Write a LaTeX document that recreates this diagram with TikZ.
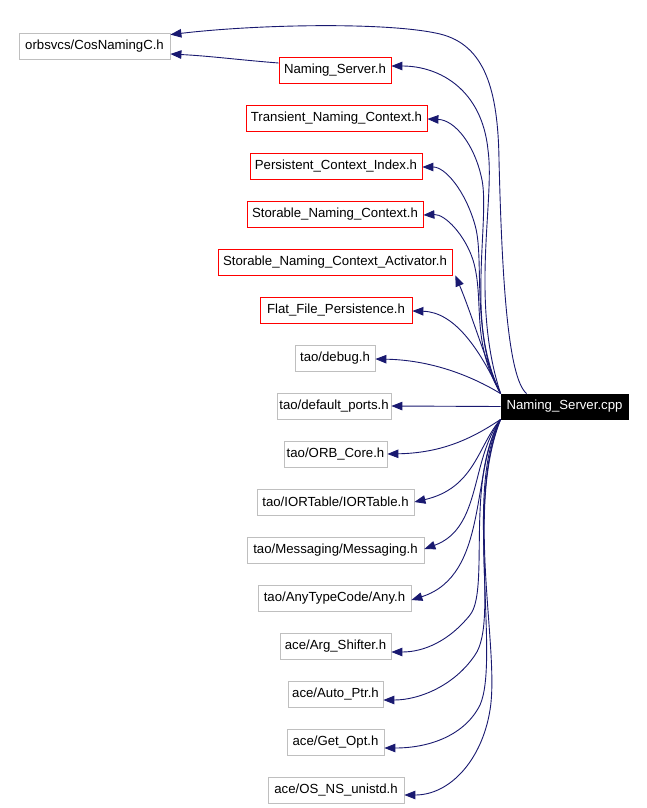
\documentclass[tikz,border=0pt]{standalone}
\usepackage{fontspec}
\setmainfont{Liberation Sans}
\usetikzlibrary{arrows.meta}
\definecolor{edgeblue}{HTML}{191970}
\definecolor{boxgray}{HTML}{BFBFBF}
\begin{document}
\begin{tikzpicture}[x=1pt,y=-1pt,
  box/.style={draw=boxgray, line width=0.8pt, fill=white, minimum height=26pt, inner sep=0pt, font=\fontsize{13.2}{15}\selectfont, text=black},
  redbox/.style={box, draw=red},
  mainbox/.style={box, draw=black, fill=black, text=white, minimum height=25pt},
  edge/.style={draw=edgeblue, line width=0.9pt, -{Triangle[length=11pt,width=8.5pt]}}]
\useasboundingbox (0,0) rectangle (646,808);
\fill[white] (0,0) rectangle (646,808);

\node[box, minimum width=151pt] (cos) at (94.5,46) {orbsvcs/CosNamingC.h};
\node[redbox, minimum width=112pt] (nsh) at (335,70) {Naming\_Server.h};
\node[redbox, minimum width=181pt] (tnc) at (336.5,118) {Transient\_Naming\_Context.h};
\node[redbox, minimum width=172pt] (pci) at (336,166) {Persistent\_Context\_Index.h};
\node[redbox, minimum width=176pt] (snc) at (335,214) {Storable\_Naming\_Context.h};
\node[redbox, minimum width=234pt] (snca) at (335,262) {Storable\_Naming\_Context\_Activator.h};
\node[redbox, minimum width=152pt] (ffp) at (336,310) {Flat\_File\_Persistence.h};
\node[box, minimum width=80pt] (debug) at (335,358) {tao/debug.h};
\node[box, minimum width=114pt] (dports) at (334,406) {tao/default\_ports.h};
\node[box, minimum width=103pt] (orb) at (335.5,454) {tao/ORB\_Core.h};
\node[box, minimum width=157pt] (ior) at (335.5,502) {tao/IORTable/IORTable.h};
\node[box, minimum width=177pt] (msg) at (335.5,550) {tao/Messaging/Messaging.h};
\node[box, minimum width=153pt] (any) at (334.5,598) {tao/AnyTypeCode/Any.h};
\node[box, minimum width=111pt] (arg) at (335.5,646) {ace/Arg\_Shifter.h};
\node[box, minimum width=95pt] (auto) at (335.5,694) {ace/Auto\_Ptr.h};
\node[box, minimum width=97pt] (getopt) at (335.5,742) {ace/Get\_Opt.h};
\node[box, minimum width=136pt] (osns) at (336,790) {ace/OS\_NS\_unistd.h};
\node[mainbox, minimum width=127pt] (cpp) at (564.5,406.5) {Naming\_Server.cpp};

% edges to nodes above
\draw[edge] ([xshift=26pt]cpp.north west) .. controls (508,378) and (502,280) .. (499,160)
  .. controls (498,90) and (485,45) .. (440,34)
  .. controls (390,22) and (260,24) .. ([yshift=-2pt]cos.north east);
\draw[edge] ([yshift=7pt]nsh.west) .. controls (240,60) and (210,56) .. ([yshift=-8pt]cos.east);
\draw[edge] (cpp.north west) .. controls (470,300) and (495,200) .. (488,150)
  .. controls (482,90) and (440,66) .. ([yshift=4pt]nsh.east);
\draw[edge] (cpp.north west) .. controls (465,330) and (490,220) .. (482,180)
  .. controls (475,145) and (455,120) .. ([yshift=-1pt]tnc.east);
\draw[edge] (cpp.north west) .. controls (470,330) and (485,260) .. (475,225)
  .. controls (465,190) and (445,167) .. ([yshift=-1pt]pci.east);
\draw[edge] (cpp.north west) .. controls (470,340) and (485,300) .. (473,260)
  .. controls (465,235) and (445,214) .. ([yshift=-1pt]snc.east);
\draw[edge] (cpp.north west) .. controls (485,360) and (472,315) .. ([xshift=3pt]snca.south east);
\draw[edge] (cpp.north west) .. controls (480,350) and (455,312) .. ([yshift=-1pt]ffp.east);
\draw[edge] (cpp.north west) .. controls (470,375) and (430,360) .. ([yshift=-1pt]debug.east);
\draw[edge] (cpp.west) -- (dports.east);
% edges to nodes below
\draw[edge] (cpp.south west) .. controls (470,440) and (440,453) .. (orb.east);
\draw[edge] (cpp.south west) .. controls (478,445) and (475,488) .. (ior.east);
\draw[edge] (cpp.south west) .. controls (470,460) and (482,528) .. ([yshift=1pt]msg.east);
\draw[edge] (cpp.south west) .. controls (470,470) and (490,575) .. ([yshift=-2pt]any.east);
\draw[edge] (cpp.south west) .. controls (465,480) and (490,590) .. (470,615)
  .. controls (450,640) and (425,652) .. ([yshift=-6pt]arg.east);
\draw[edge] (cpp.south west) .. controls (465,490) and (500,620) .. (475,655)
  .. controls (455,685) and (420,700) .. ([yshift=-6pt]auto.east);
\draw[edge] (cpp.south west) .. controls (465,500) and (500,660) .. (480,705)
  .. controls (465,735) and (430,748) .. ([yshift=-6pt]getopt.east);
\draw[edge] (cpp.south west) .. controls (465,510) and (500,650) .. (490,710)
  .. controls (482,760) and (450,795) .. ([yshift=-5pt]osns.east);
\end{tikzpicture}
\end{document}
